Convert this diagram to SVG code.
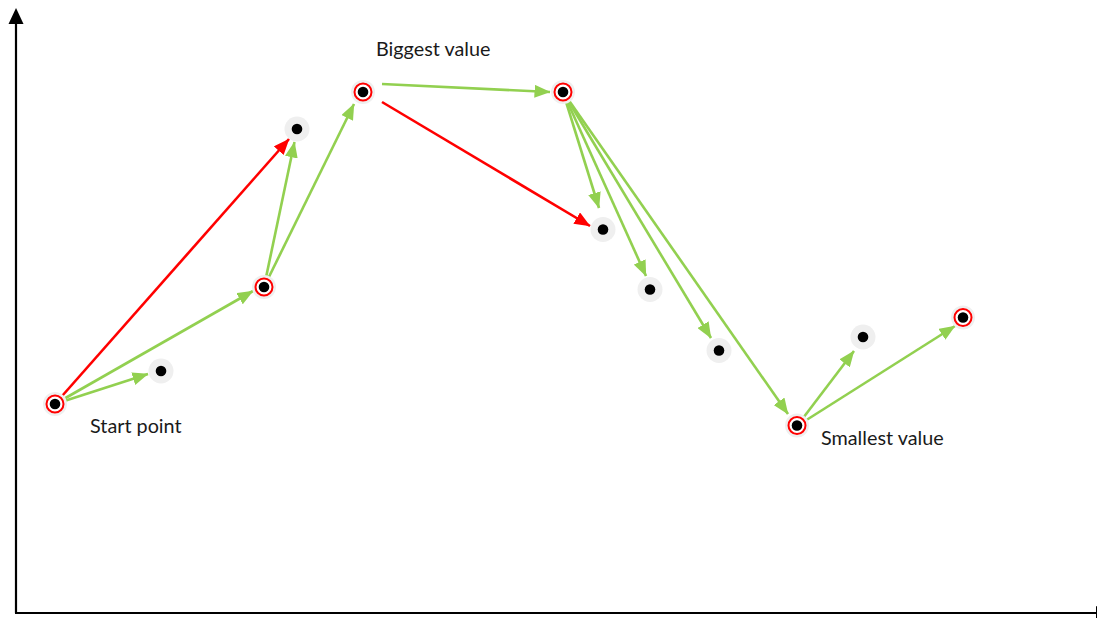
<svg xmlns="http://www.w3.org/2000/svg" width="1097" height="618" viewBox="0 0 1097 618">
  <style>
    .axis { stroke: #000; stroke-width: 2.2; fill: none; }
    .g { stroke: #92d050; stroke-width: 2.6; fill: none; marker-end: url(#ag); }
    .r { stroke: #ff0000; stroke-width: 2.6; fill: none; marker-end: url(#ar); }
    .halo { fill: #efefef; }
    .ring { fill: #fff; stroke: #ff0000; stroke-width: 2; }
    .dot { fill: #000; }
    .lbl { font-family: Lato, "Liberation Sans", sans-serif; font-size: 19.8px; fill: #1a1a1a; }
  </style>
  <defs>
    <marker id="ag" viewBox="0 0 16 13" refX="15.5" refY="6.5" markerWidth="16" markerHeight="13" markerUnits="userSpaceOnUse" orient="auto">
      <path d="M0,0 L16,6.5 L0,13 Z" fill="#92d050"/>
    </marker>
    <marker id="ar" viewBox="0 0 16 13" refX="15.5" refY="6.5" markerWidth="16" markerHeight="13" markerUnits="userSpaceOnUse" orient="auto">
      <path d="M0,0 L16,6.5 L0,13 Z" fill="#ff0000"/>
    </marker>
    <g id="pt">
      <circle class="halo" r="12.5"/>
      <circle class="dot" r="5.3"/>
    </g>
    <g id="pk">
      <circle class="halo" r="12"/>
      <circle class="ring" r="8.5"/>
      <circle class="dot" r="5.3"/>
    </g>
  </defs>

  <rect width="1097" height="618" fill="#fff"/>

  <!-- axes -->
  <g id="axes">
    <line class="axis" x1="16" y1="613" x2="16" y2="22"/>
    <polygon points="16,8 8.5,24 23.5,24" fill="#000"/>
    <line class="axis" x1="15" y1="613" x2="1096" y2="613"/>
    <polygon points="1096,606 1111,613 1096,620" fill="#000"/>
  </g>

  <!-- connectors -->
  <g id="connectors">
    <line class="g" x1="55" y1="404" x2="148" y2="374"/>
    <line class="g" x1="55" y1="404" x2="253" y2="291"/>
    <line class="r" x1="55" y1="404" x2="289" y2="139"/>
    <line class="g" x1="264" y1="287" x2="294.5" y2="142"/>
    <line class="g" x1="264" y1="287" x2="354" y2="104"/>
    <line class="g" x1="382" y1="84" x2="550" y2="92"/>
    <line class="r" x1="382" y1="102" x2="590" y2="226"/>
    <line class="g" x1="563" y1="92" x2="599" y2="208"/>
    <line class="g" x1="563" y1="92" x2="646" y2="276"/>
    <line class="g" x1="563" y1="92" x2="711" y2="338"/>
    <line class="g" x1="563" y1="92" x2="788" y2="414"/>
    <line class="g" x1="797" y1="426" x2="854" y2="351"/>
    <line class="g" x1="797" y1="426" x2="955" y2="326"/>
  </g>

  <!-- points -->
  <g id="n-start"><use href="#pk" x="55" y="404"/></g>
  <g id="n-p1"><use href="#pt" x="161" y="371"/></g>
  <g id="n-p2"><use href="#pk" x="264" y="287"/></g>
  <g id="n-p3"><use href="#pt" x="297" y="129"/></g>
  <g id="n-max"><use href="#pk" x="363" y="92"/></g>
  <g id="n-p5"><use href="#pk" x="563" y="92"/></g>
  <g id="n-p6"><use href="#pt" x="603" y="229.5"/></g>
  <g id="n-p7"><use href="#pt" x="650" y="289.5"/></g>
  <g id="n-p8"><use href="#pt" x="719" y="350.5"/></g>
  <g id="n-min"><use href="#pk" x="797" y="425.5"/></g>
  <g id="n-p10"><use href="#pt" x="863" y="337"/></g>
  <g id="n-p11"><use href="#pk" x="963" y="317.5"/></g>

  <!-- labels -->
  <g id="labels">
    <text class="lbl" x="90" y="433">Start point</text>
    <text class="lbl" x="376" y="56">Biggest value</text>
    <text class="lbl" x="821" y="445">Smallest value</text>
  </g>
</svg>
